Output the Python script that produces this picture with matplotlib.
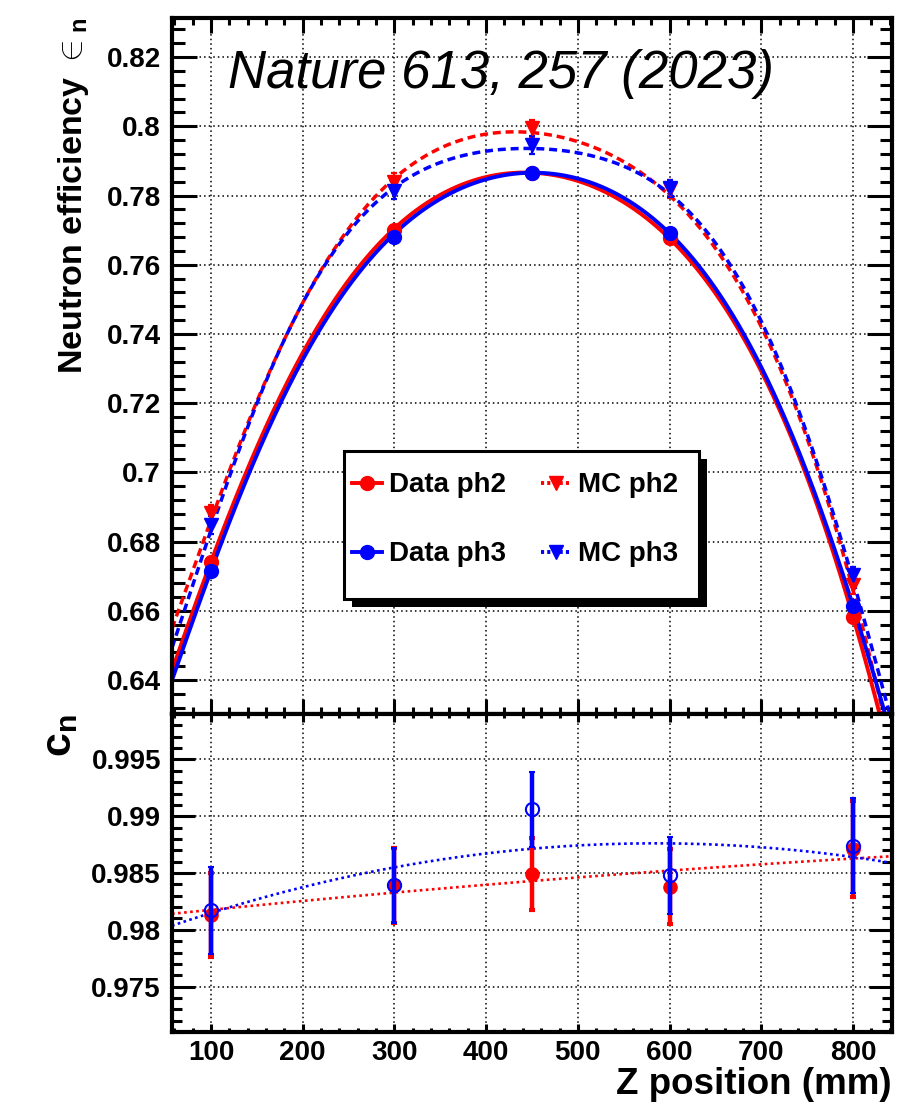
import numpy as np
import matplotlib
matplotlib.use("Agg")
import matplotlib.pyplot as plt
from matplotlib.ticker import MultipleLocator, FuncFormatter
from matplotlib.lines import Line2D
from matplotlib.patches import Rectangle

plt.rcParams['font.family'] = ['Liberation Sans', 'DejaVu Sans']
plt.rcParams['font.weight'] = 'bold'
plt.rcParams['mathtext.fontset'] = 'custom'
plt.rcParams['mathtext.rm'] = 'Liberation Sans'
plt.rcParams['mathtext.bf'] = 'Liberation Sans:bold'
plt.rcParams['mathtext.it'] = 'Liberation Sans:italic'

# ---------------- data ----------------
z_pos = [100, 300, 450, 600, 800]

data_ph2 = [0.6742, 0.7700, 0.7866, 0.7676, 0.6583]
data_ph3 = [0.6716, 0.7681, 0.7866, 0.7691, 0.6614]
mc_ph2 = [0.6882, 0.7840, 0.7994, 0.7819, 0.6674]
mc_ph3 = [0.6848, 0.7814, 0.7946, 0.7821, 0.6703]
mc_ph2_err = [0.0025, 0.0025, 0.0025, 0.0025, 0.0025]
mc_ph3_err = [0.0025, 0.0025, 0.0025, 0.0025, 0.0025]

# fit curves of the upper panel at a few positions
fit_data_ph2_z = [59, 100, 300, 450, 600, 800, 829]
fit_data_ph2 = [0.6439, 0.6742, 0.7705, 0.7866, 0.7676, 0.6583, 0.6302]
fit_data_ph3_z = [59, 100, 300, 450, 600, 800, 835]
fit_data_ph3 = [0.6411, 0.6716, 0.7690, 0.7866, 0.7691, 0.6614, 0.6302]
fit_mc_ph2_z = [59, 100, 300, 450, 600, 800, 833]
fit_mc_ph2 = [0.6560, 0.6862, 0.7850, 0.7982, 0.7800, 0.6660, 0.6302]
fit_mc_ph3_z = [59, 100, 300, 450, 600, 800, 840]
fit_mc_ph3 = [0.6505, 0.6833, 0.7824, 0.7936, 0.7805, 0.6689, 0.6302]

cn_ph2 = [0.9813, 0.9839, 0.9849, 0.9838, 0.9871]
cn_ph2_err = [0.0037, 0.0033, 0.0032, 0.0033, 0.0042]
cn_ph3 = [0.9817, 0.9839, 0.9906, 0.9848, 0.9874]
cn_ph3_err = [0.0038, 0.0033, 0.0033, 0.0034, 0.0042]

x_range = (57.5, 842.5)
eff_range = (0.6302, 0.8313)
cn_range = (0.9710, 0.9990)

RED = '#ff0000'
BLUE = '#0000ff'

# ---------------- figure ----------------
W, H = 912, 1105
fig = plt.figure(figsize=(W / 100, H / 100), dpi=100)
L, R = 172, 892
T1, B1, B2 = 18, 714, 1032


def rect(top, bottom):
    return [L / W, 1 - bottom / H, (R - L) / W, (bottom - top) / H]


ax1 = fig.add_axes(rect(T1, B1))
ax2 = fig.add_axes(rect(B1, B2))

xs = np.linspace(x_range[0], x_range[1], 500)
zz = np.array(z_pos, dtype=float)

# ---- top panel: fits ----
DASH = (0, (2.3, 1.4))
for fz, fv, col, ls in [(fit_data_ph2_z, fit_data_ph2, RED, '-'),
                        (fit_mc_ph2_z, fit_mc_ph2, RED, DASH),
                        (fit_data_ph3_z, fit_data_ph3, BLUE, '-'),
                        (fit_mc_ph3_z, fit_mc_ph3, BLUE, DASH)]:
    fzc = (np.array(fz, float) - 450.0) / 400.0
    coef = np.polyfit(fzc, np.array(fv), 6)
    ax1.plot(xs, np.polyval(coef, (xs - 450.0) / 400.0), color=col,
             lw=2.8 if ls == '-' else 2.5, ls=ls, zorder=2)

# ---- top panel: points ----
ax1.errorbar(z_pos, mc_ph2, yerr=mc_ph2_err, fmt='v', ms=10, color=RED,
             elinewidth=1.6, capsize=2.2, capthick=1.6, zorder=3)
ax1.plot(z_pos, data_ph2, 'o', ms=10, color=RED, zorder=3)
ax1.errorbar(z_pos, mc_ph3, yerr=mc_ph3_err, fmt='v', ms=10, color=BLUE,
             elinewidth=1.6, capsize=2.2, capthick=1.6, zorder=3)
ax1.plot(z_pos, data_ph3, 'o', ms=10, color=BLUE, zorder=3)

# ---- bottom panel: fits ----
for vals, errs, col in [(cn_ph2, cn_ph2_err, RED), (cn_ph3, cn_ph3_err, BLUE)]:
    coef = np.polyfit(zz, np.array(vals), 2, w=1 / np.array(errs))
    ax2.plot(xs, np.polyval(coef, xs), color=col, lw=1.9, ls=(0, (1, 1.3)), zorder=2)

ax2.errorbar(z_pos, cn_ph2, yerr=cn_ph2_err, fmt='o', ms=9.5, color=RED,
             elinewidth=3.2, capsize=2.2, capthick=3.0, zorder=3)
ax2.errorbar(z_pos, cn_ph3, yerr=cn_ph3_err, fmt='o', ms=9.5, color=BLUE,
             mfc='none', mew=1.5, elinewidth=3.2, capsize=2.2, capthick=3.0, zorder=4)

# ---------------- axes styling ----------------
fmt = FuncFormatter(lambda v, p: f"{v:g}")
for ax in (ax1, ax2):
    ax.set_xlim(*x_range)
    ax.xaxis.set_major_locator(MultipleLocator(100))
    ax.xaxis.set_minor_locator(MultipleLocator(20))
    ax.grid(True, which='major', color='k', ls=(0, (1, 2)), lw=1.1)
    ax.set_axisbelow(True)
    for s in ax.spines.values():
        s.set_linewidth(3)
    ax.yaxis.set_major_formatter(fmt)
    ax.tick_params(which='both', direction='in', top=True, right=True,
                   bottom=True, left=True, width=2.2, labelsize=20)

ax1.set_ylim(*eff_range)
ax1.yaxis.set_major_locator(MultipleLocator(0.02))
ax1.yaxis.set_minor_locator(MultipleLocator(0.004))
ax1.tick_params(axis='y', which='major', length=18, pad=8)
ax1.tick_params(axis='y', which='minor', length=9)
ax1.tick_params(axis='x', which='major', length=11, labelbottom=False)
ax1.tick_params(axis='x', which='minor', length=5)

ax2.set_ylim(*cn_range)
ax2.yaxis.set_major_locator(MultipleLocator(0.005))
ax2.yaxis.set_minor_locator(MultipleLocator(0.001))
ax2.tick_params(axis='y', which='major', length=16.5, pad=8)
ax2.tick_params(axis='y', which='minor', length=7.5)
ax2.tick_params(axis='x', which='major', length=6, pad=6)
ax2.tick_params(axis='x', which='minor', length=3)

# labels
ax1.set_ylabel("Neutron efficiency $\\in_{\\mathrm{n}}$", fontsize=24.5,
               fontweight='bold', loc='top')
ax1.yaxis.set_label_coords(-0.113, 1.0)
ax2.set_ylabel("$\\mathbf{c}_{\\mathbf{n}}$", fontsize=31, loc='top')
ax2.yaxis.set_label_coords(-0.128, 1.0)
ax2.set_xlabel("Z position (mm)", fontsize=26.5, fontweight='bold', loc='right')
ax2.xaxis.set_label_coords(1.0, -0.11)

ax1.text(0.078, 0.8994, "Nature 613, 257 (2023)", transform=ax1.transAxes,
         fontsize=38, fontstyle='italic', fontweight='normal',
         ha='left', va='baseline', zorder=6)

# legend (frame and its shadow drawn as ROOT-style boxes)
LX0, LY0, LX1, LY1 = 344, 451, 699, 599
shadow = Rectangle(((LX0 + 8) / W, 1 - (LY1 + 8) / H), (LX1 - LX0) / W, (LY1 - LY0) / H,
                   transform=fig.transFigure, facecolor='k', edgecolor='none',
                   zorder=9.5, clip_on=False)
frame = Rectangle((LX0 / W, 1 - LY1 / H), (LX1 - LX0) / W, (LY1 - LY0) / H,
                  transform=fig.transFigure, facecolor='white', edgecolor='k',
                  lw=2.2, zorder=9.6, clip_on=False)
ax1.add_artist(shadow)
ax1.add_artist(frame)

handles = [
    Line2D([], [], color=RED, lw=2.8, marker='o', ms=10),
    Line2D([], [], color=BLUE, lw=2.8, marker='o', ms=10),
    Line2D([], [], color=RED, lw=2.8, ls=(0, (0.8, 0.8)), marker='v', ms=10),
    Line2D([], [], color=BLUE, lw=2.8, ls=(0, (0.8, 0.8)), marker='v', ms=10),
]
labels = ["Data ph2", "Data ph3", "MC ph2", "MC ph3"]
leg = ax1.legend(handles, labels, ncol=2, loc='upper left',
                 bbox_to_anchor=(LX0 / W, 1 - 464 / H), bbox_transform=fig.transFigure,
                 borderaxespad=0, prop={'size': 20, 'weight': 'bold'},
                 frameon=False, borderpad=0.3, handlelength=1.08,
                 handletextpad=0.25, columnspacing=1.25, labelspacing=1.55,
                 numpoints=1)
leg.set_zorder(10)

fig.savefig("out.png", dpi=100, facecolor='white')
